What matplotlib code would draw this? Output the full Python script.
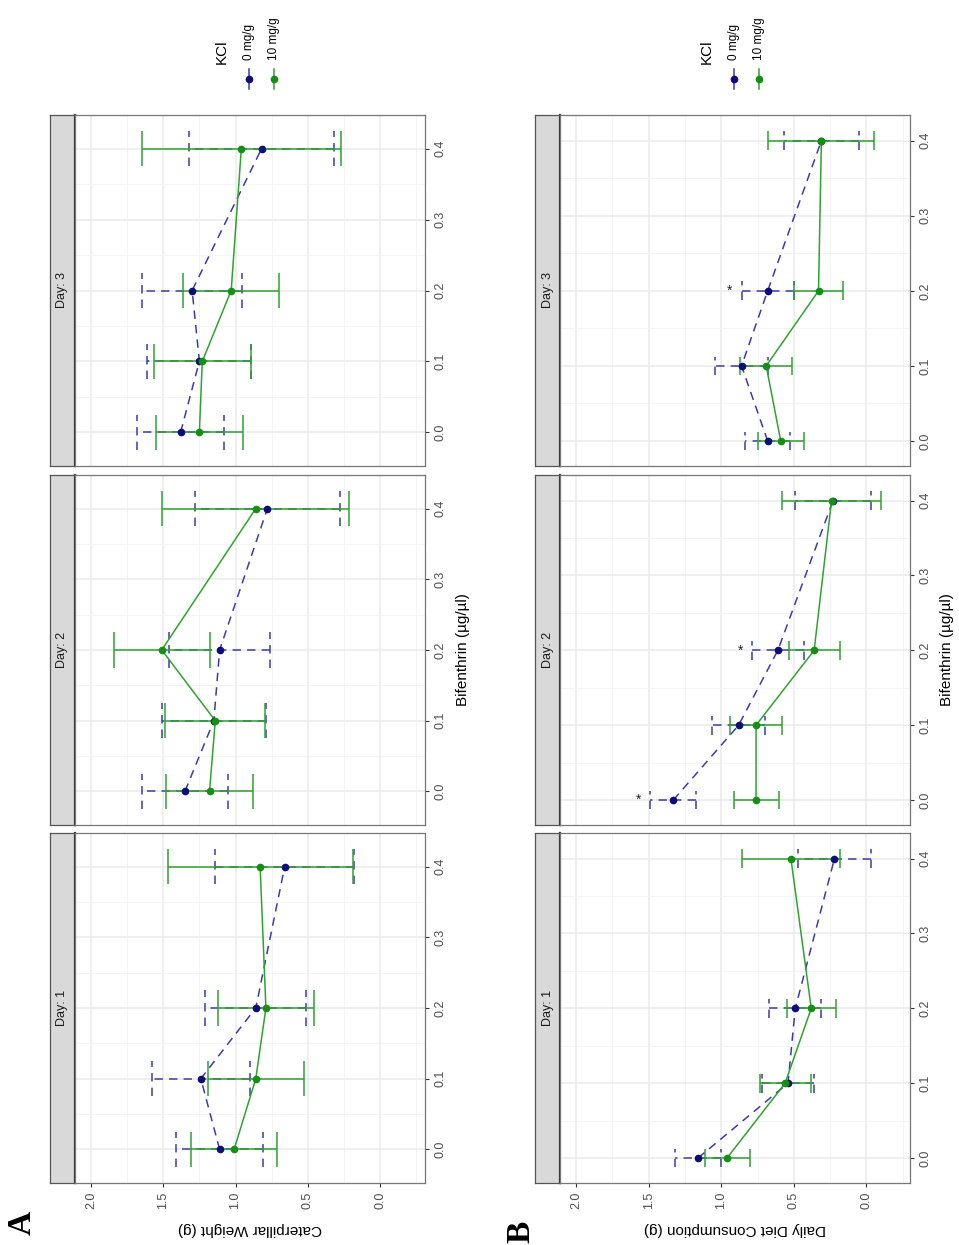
import matplotlib
matplotlib.use("Agg")
import matplotlib.pyplot as plt
from matplotlib.lines import Line2D
from matplotlib.patches import Rectangle

plt.rcParams['font.family'] = ['Liberation Sans', 'DejaVu Sans']

# bifenthrin doses shared by every facet
doses = [0.0, 0.1, 0.2, 0.4]
days = [1, 2, 3]
kcl_levels = ['0 mg/g', '10 mg/g']

# caterpillar weight (g), mean and standard error per day, one row per day
weight_ctrl_mean = [[1.11, 1.24, 0.86, 0.66], [1.35, 1.15, 1.11, 0.78], [1.38, 1.25, 1.30, 0.82]]
weight_ctrl_se = [[0.30, 0.34, 0.35, 0.48], [0.30, 0.36, 0.35, 0.50], [0.30, 0.36, 0.345, 0.50]]
weight_kcl_mean = [[1.01, 0.86, 0.79, 0.83], [1.18, 1.14, 1.51, 0.86], [1.25, 1.23, 1.03, 0.96]]
weight_kcl_se = [[0.30, 0.33, 0.33, 0.64], [0.30, 0.345, 0.33, 0.645], [0.30, 0.335, 0.33, 0.69]]

# daily diet consumption (g)
diet_ctrl_mean = [[1.16, 0.54, 0.49, 0.22], [1.33, 0.88, 0.61, 0.23], [0.68, 0.86, 0.68, 0.31]]
diet_ctrl_se = [[0.16, 0.18, 0.18, 0.25], [0.157, 0.18, 0.18, 0.26], [0.157, 0.18, 0.18, 0.26]]
diet_kcl_mean = [[0.96, 0.56, 0.38, 0.52], [0.76, 0.76, 0.36, 0.24], [0.59, 0.69, 0.33, 0.31]]
diet_kcl_se = [[0.155, 0.175, 0.17, 0.34], [0.155, 0.178, 0.175, 0.34], [0.157, 0.18, 0.17, 0.365]]

# significance stars on the 0 mg/g diet series: (day, dose)
diet_stars = [(2, 0.0), (2, 0.2), (3, 0.2)]

W, H = 959, 1245
fig = plt.figure(figsize=(W / 100, H / 100), dpi=100)

CTRL_LINE, CTRL_PT = '#3b3bab', '#0c0c7a'
KCL_LINE, KCL_PT = '#2fa32f', '#138f13'
DASH = (0, (5.5, 4))


def fx(x):
    return x / W


def fy(y):
    return 1 - y / H


def px_axes(x0, y0, x1, y1):
    return fig.add_axes([fx(x0), fy(y1), (x1 - x0) / W, (y1 - y0) / H])


def draw_series(ax, mean, se, cap, line_c, pt_c, ls):
    for d, m, s in zip(doses, mean, se):
        kw = dict(color=line_c, lw=1.1, ls=ls, zorder=3, solid_capstyle='butt')
        ax.plot([m - s, m + s], [d, d], **kw)
        ax.plot([m - s, m - s], [d - cap, d + cap], **kw)
        ax.plot([m + s, m + s], [d - cap, d + cap], **kw)
    ax.plot(mean, doses, color=line_c, lw=1.1, ls=ls, zorder=4)
    ax.plot(mean, doses, 'o', color=pt_c, ms=4.5, zorder=5)


def panel(x0, y0, x1, y1, day, ctrl, kcl, cap, xlim, ylim, show_x):
    # facet strip on the left
    sax = px_axes(x0 - 25, y0, x0, y1)
    sax.set_facecolor('#d9d9d9')
    sax.set_xticks([])
    sax.set_yticks([])
    for sp in sax.spines.values():
        sp.set_color('#555555')
        sp.set_linewidth(0.9)
    sax.spines['right'].set_color('#333333')
    sax.spines['right'].set_linewidth(1.6)
    sax.text(0.5, 0.5, 'Day: %d' % day, rotation=90, ha='center', va='center',
             fontsize=9, color='#1a1a1a', transform=sax.transAxes)

    ax = px_axes(x0, y0, x1, y1)
    ax.set_xlim(*xlim)
    ax.set_ylim(*ylim)
    ax.set_xticks([0, 0.5, 1.0, 1.5, 2.0])
    ax.set_xticks([-0.25, 0.25, 0.75, 1.25, 1.75], minor=True)
    ax.set_yticks(doses[:3] + [0.3, 0.4])
    ax.set_yticks([0.05, 0.15, 0.25, 0.35], minor=True)
    ax.grid(which='major', color='#ebebeb', lw=1.1, zorder=0)
    ax.grid(which='minor', color='#f2f2f2', lw=0.6, zorder=0)
    ax.set_axisbelow(True)
    for sp in ax.spines.values():
        sp.set_color('#777777')
        sp.set_linewidth(0.9)
    ax.yaxis.tick_right()
    ax.tick_params(which='minor', length=0)
    ax.tick_params(which='major', length=3, width=0.8, color='#333333',
                   labelcolor='#4d4d4d', labelsize=9)
    ax.set_yticklabels(['%.1f' % v for v in [0.0, 0.1, 0.2, 0.3, 0.4]],
                       rotation=90, va='center')
    if show_x:
        ax.set_xticklabels(['%.1f' % v for v in [0.0, 0.5, 1.0, 1.5, 2.0]],
                           rotation=90, ha='center')
    else:
        ax.tick_params(axis='x', length=0, labelbottom=False)

    draw_series(ax, ctrl[0], ctrl[1], cap, CTRL_LINE, CTRL_PT, DASH)
    draw_series(ax, kcl[0], kcl[1], cap, KCL_LINE, KCL_PT, '-')
    return ax


rows = {3: (115, 466), 2: (475, 825), 1: (833, 1183)}

# A: caterpillar weight
for i, day in enumerate(days):
    y0, y1 = rows[day]
    panel(75, y0, 425, y1, day,
          (weight_ctrl_mean[i], weight_ctrl_se[i]),
          (weight_kcl_mean[i], weight_kcl_se[i]),
          0.025, (2.11, -0.31), (-0.0475, 0.4475), day == 1)

# B: diet consumption
for i, day in enumerate(days):
    y0, y1 = rows[day]
    ax = panel(560, y0, 910, y1, day,
               (diet_ctrl_mean[i], diet_ctrl_se[i]),
               (diet_kcl_mean[i], diet_kcl_se[i]),
               0.0125, (2.11, -0.30), (-0.0333, 0.4342), day == 1)
    for sday, sdose in diet_stars:
        if sday == day:
            k = doses.index(sdose)
            ax.text(diet_ctrl_mean[i][k] + diet_ctrl_se[i][k] + 0.08, sdose, '*',
                    ha='center', va='center', fontsize=10, color='#222222', zorder=6)

# axis titles
for cx, ytitle in [(250, 'Caterpillar Weight (g)'), (735, 'Daily Diet Consumption (g)')]:
    fig.text(fx(cx), fy(1229), ytitle, rotation=180, ha='center', va='center',
             fontsize=11, color='black')
for tx in [463, 947]:
    fig.text(fx(tx), fy(650), 'Bifenthrin (µg/µl)', rotation=90, ha='center',
             va='center', fontsize=11, color='black')

# panel letters
fig.text(fx(22), fy(1223), 'A', rotation=90, ha='center', va='center',
         fontsize=24, fontweight='bold', family='Liberation Serif')
fig.text(fx(521), fy(1232), 'B', rotation=90, ha='center', va='center',
         fontsize=24, fontweight='bold', family='Liberation Serif')

# KCl legends above each block
for lx in [222, 707]:
    fig.text(fx(lx), fy(52), 'KCl', rotation=90, ha='center', va='center',
             fontsize=11, color='black')
    for j, (lab, lc, pc) in enumerate(zip(kcl_levels, [CTRL_LINE, KCL_LINE],
                                          [CTRL_PT, KCL_PT])):
        kx = lx + 27 + 25 * j
        fig.add_artist(Line2D([fx(kx), fx(kx)], [fy(69), fy(89)], color=lc, lw=1.1,
                              transform=fig.transFigure))
        fig.add_artist(Line2D([fx(kx)], [fy(79)], marker='o', ms=4.5, color=pc,
                              transform=fig.transFigure))
        fig.text(fx(kx), fy(60), lab, rotation=90, ha='center', va='bottom',
                 fontsize=8.5, color='black')

fig.savefig('out.png', dpi=100)
